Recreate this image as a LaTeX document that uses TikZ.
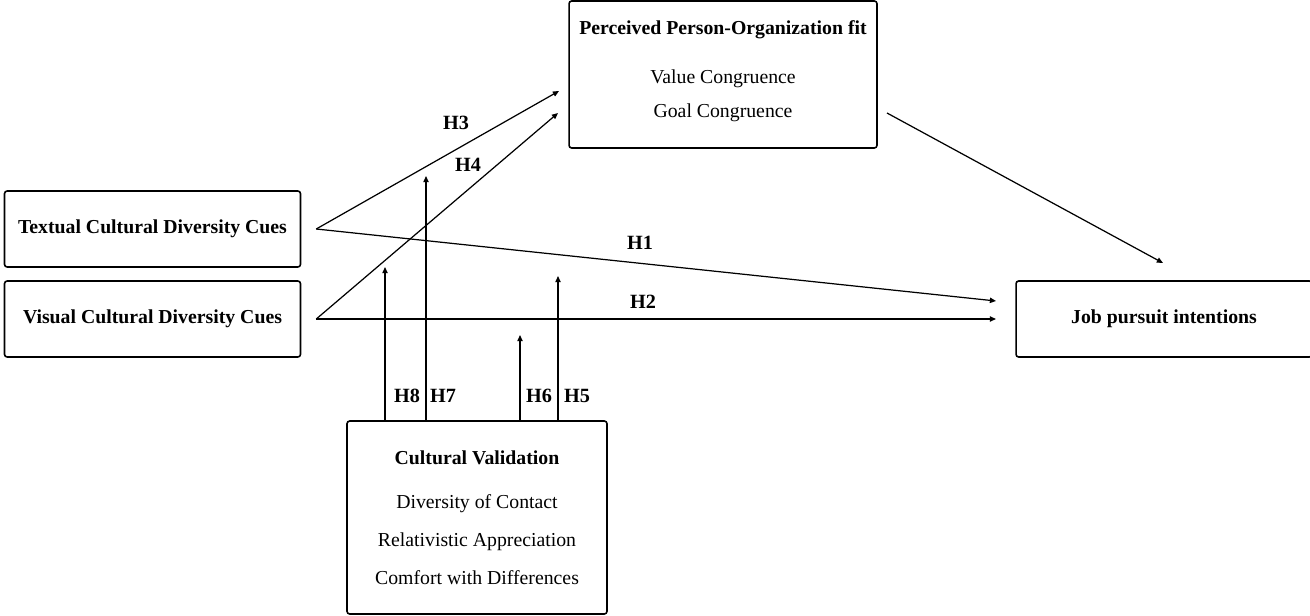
\documentclass[tikz,border=0pt]{standalone}
\usepackage{fontspec}
\setmainfont{Liberation Serif}
\usetikzlibrary{positioning, arrows.meta}

\tikzset{
    factor/.style={draw, line width=0.9pt, rounded corners=1.5pt, align=center, font=\fontsize{11.25}{13.5}\selectfont},
    hyp/.style={-{Triangle[length=3.5pt,width=3pt]}, line width=0.7pt},
    hlabel/.style={font=\fontsize{11.5}{13.5}\selectfont\bfseries, inner sep=1pt},
}

\begin{document}
\begin{tikzpicture}[x=0.02cm, y=-0.02cm]
            \useasboundingbox (0,0) rectangle (1310,615);
            \node[factor, minimum width=5.92cm, minimum height=1.52cm] (textual) at (152.5,229) {\textbf{Textual Cultural Diversity Cues}};
            \node[factor, minimum width=5.92cm, minimum height=1.52cm] (visual) at (152.5,319) {\textbf{Visual Cultural Diversity Cues}};
            \node[factor, minimum width=6.16cm, minimum height=2.94cm, text depth=6pt] (pofit) at (723,74.5)
                {\textbf{Perceived Person-Organization fit}\\[14.3pt] Value Congruence\\[5.8pt] Goal Congruence};
            \node[factor, minimum width=5.92cm, minimum height=1.52cm] (jobpursuit) at (1164,319) {\textbf{Job pursuit intentions}};
            \node[factor, minimum width=5.2cm, minimum height=3.86cm] (validation) at (477,517.5)
                {\textbf{Cultural Validation}\\[11.5pt] Diversity of Contact\\[8pt] Relativistic Appreciation\\[8pt] Comfort with Differences};

            \coordinate[right=0.3cm of textual] (textout);
            \coordinate[right=0.3cm of visual] (visualout);
            \coordinate (fitout) at (887,113);
            \coordinate (h3tip) at (559,91);
            \coordinate (h4tip) at (558,113);
            \coordinate (h1tip) at (996,301);
            \coordinate (h2tip) at (996,319);
            \coordinate (jobtip) at (1163,263);
            \coordinate (h8tip) at (385,267);
            \coordinate (h7tip) at (426,176);
            \coordinate (h6tip) at (520,335);
            \coordinate (h5tip) at (558,276);

            \draw[hyp] (textout) -- (h3tip);
            \draw[hyp] (visualout) -- (h4tip);
            \draw[hyp] (textout) -- (h1tip);
            \draw[hyp] (visualout) -- (h2tip);
            \draw[hyp] (fitout) -- (jobtip);
            \draw[hyp] (validation.north -| h8tip) -- (h8tip);
            \draw[hyp] (validation.north -| h7tip) -- (h7tip);
            \draw[hyp] (validation.north -| h6tip) -- (h6tip);
            \draw[hyp] (validation.north -| h5tip) -- (h5tip);

            \node[hlabel] (h3) at (456,123) {H3};
            \node[hlabel] (h4) at (468,165) {H4};
            \node[hlabel] (h1) at (640,243) {H1};
            \node[hlabel] (h2) at (643,302) {H2};
            \node[hlabel] (h8) at (407,396) {H8};
            \node[hlabel] (h7) at (443,396) {H7};
            \node[hlabel] (h6) at (539,396) {H6};
            \node[hlabel] (h5) at (577,396) {H5};
\end{tikzpicture}
\end{document}
